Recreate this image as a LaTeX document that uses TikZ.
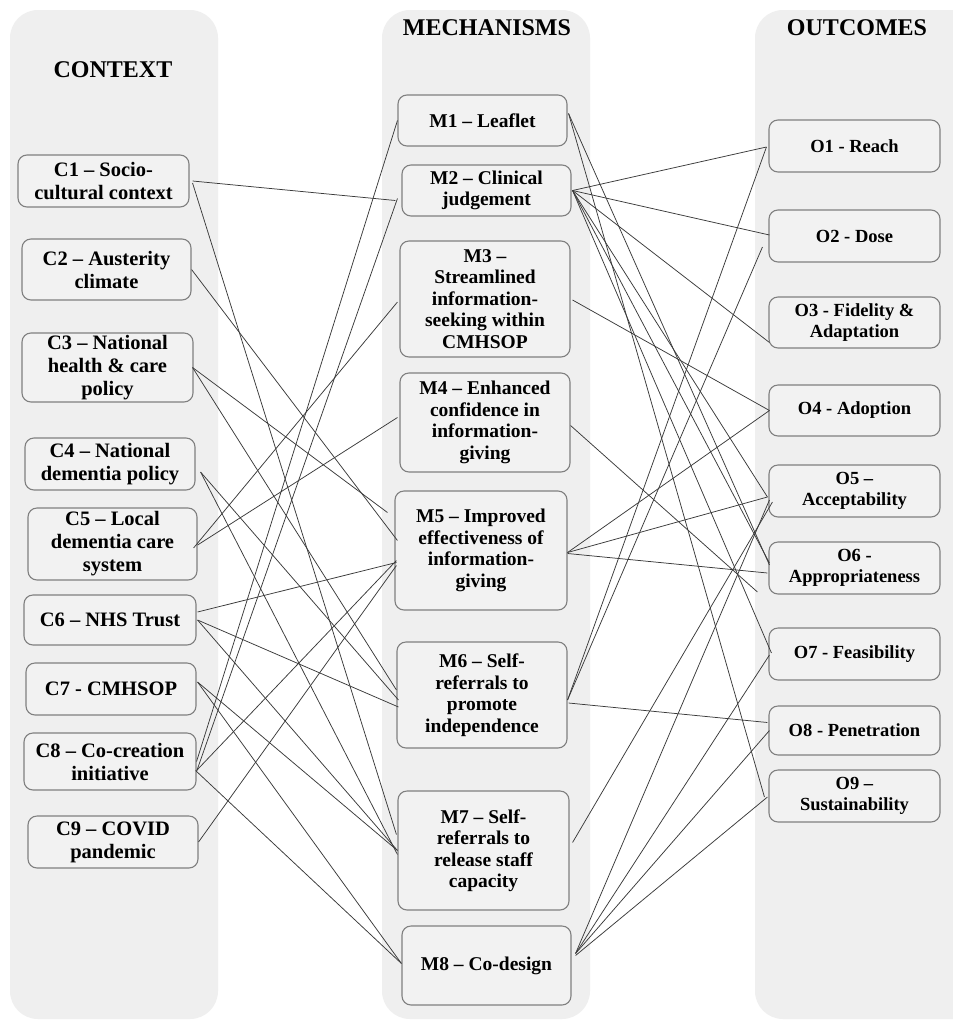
\documentclass[tikz,border=0pt]{standalone}
\usepackage{fontspec}
\setmainfont{Liberation Serif}
\usetikzlibrary{calc}
\definecolor{panelgray}{HTML}{EFEFEF}
\definecolor{boxfill}{HTML}{F2F2F2}
\definecolor{boxline}{HTML}{808080}
\definecolor{linkc}{HTML}{3A3A3A}
\tikzset{
  panel/.style={fill=panelgray, draw=none, rounded corners=28pt},
  head/.style={font=\fontsize{24}{28}\selectfont\bfseries, inner sep=0pt},
  box/.style={draw=boxline, line width=1.1pt, fill=boxfill, rounded corners=9pt, inner sep=0pt,
    align=center, font=\fontsize{18.5}{21.5}\selectfont\bfseries},
  cbox/.style={box, font=\fontsize{20.5}{23}\selectfont\bfseries},
  mbox/.style={box, font=\fontsize{19.5}{21.5}\selectfont\bfseries},
  obox/.style={box},
  link/.style={draw=linkc, line width=0.75pt},
}
\newcommand{\bx}[7]{\node[#7, minimum width=#4pt-#2pt, minimum height=#5pt-#3pt] (#1) at ({(#2+#4)/2},{(#3+#5)/2}) {#6};}
\begin{document}
\begin{tikzpicture}[x=1pt,y=-1pt]
\useasboundingbox (0,0) rectangle (953,1021);
\clip (0,0) rectangle (953,1021);
\fill[white] (0,0) rectangle (953,1021);
\fill[panel] (10,10) rectangle (218,1019);
\fill[panel] (382,10) rectangle (590,1019);
\fill[panel] (755,10) rectangle (985,1019);
\node[head] (hc) at (113,70) {CONTEXT};
\node[head] (hm) at (487,28) {MECHANISMS};
\node[head] (ho) at (857,28) {OUTCOMES};
% context
\bx{c1}{18}{155}{189}{207}{C1 – Socio-\\cultural context}{cbox}
\bx{c2}{22}{239}{191}{300}{C2 – Austerity\\climate}{cbox}
\bx{c3}{22}{333}{193}{402}{C3 – National\\health \& care\\policy}{cbox}
\bx{c4}{25}{438}{195}{490}{C4 – National\\dementia policy}{cbox}
\bx{c5}{28}{508}{197}{580}{C5 – Local\\dementia care\\system}{cbox}
\bx{c6}{24}{595}{196}{645}{C6 – NHS Trust}{cbox}
\bx{c7}{26}{663}{196}{715}{C7 - CMHSOP}{cbox}
\bx{c8}{24}{733}{196}{790}{C8 – Co-creation\\initiative}{cbox}
\bx{c9}{28}{816}{198}{868}{C9 – COVID\\pandemic}{cbox}
% mechanisms
\bx{m1}{398}{95}{567}{146}{M1 – Leaflet}{mbox}
\bx{m2}{402}{165}{571}{216}{M2 – Clinical\\judgement}{mbox}
\bx{m3}{400}{241}{570}{357}{M3 –\\Streamlined\\information-\\seeking within\\CMHSOP}{mbox}
\bx{m4}{400}{373}{570}{472}{M4 – Enhanced\\confidence in\\information-\\giving}{mbox}
\bx{m5}{395}{491}{567}{610}{M5 – Improved\\effectiveness of\\information-\\giving}{mbox}
\bx{m6}{397}{642}{567}{748}{M6 – Self-\\referrals to\\promote\\independence}{mbox}
\bx{m7}{398}{791}{569}{910}{M7 – Self-\\referrals to\\release staff\\capacity}{mbox}
\bx{m8}{402}{926}{571}{1005}{M8 – Co-design}{mbox}
% outcomes
\bx{o1}{769}{120}{940}{172}{O1 - Reach}{obox}
\bx{o2}{769}{210}{940}{262}{O2 - Dose}{obox}
\bx{o3}{769}{297}{940}{348}{O3 - Fidelity \&\\Adaptation}{obox}
\bx{o4}{769}{385}{940}{436}{O4 - Adoption}{obox}
\bx{o5}{769}{465}{940}{517}{O5 –\\Acceptability}{obox}
\bx{o6}{769}{542}{940}{594}{O6 -\\Appropriateness}{obox}
\bx{o7}{769}{628}{940}{680}{O7 - Feasibility}{obox}
\bx{o8}{769}{706}{940}{755}{O8 - Penetration}{obox}
\bx{o9}{769}{770}{940}{822}{O9 –\\Sustainability}{obox}
% context -> mechanisms
\draw[link] ($(c1.east)+(3,0)$) -- ($(m2.west)+(-6,10)$);
\draw[link] ($(c1.east)+(3,2)$) -- ($(m7.west)+(-1,-16)$);
\draw[link] ($(c2.east)+(0,0)$) -- ($(m5.west)+(3,-10)$);
\draw[link] ($(c3.east)+(-1,0)$) -- ($(m5.west)+(-7,-38)$);
\draw[link] ($(c3.east)+(-1,0)$) -- ($(m6.west)+(0,-5)$);
\draw[link] ($(c4.east)+(5,8)$) -- ($(m6.west)+(2,5)$);
\draw[link] ($(c4.east)+(5,8)$) -- ($(m7.west)+(0,4)$);
\draw[link] ($(c5.east)+(-4,4)$) -- ($(m3.west)+(-2,3)$);
\draw[link] ($(c5.east)+(0,1)$) -- ($(m4.west)+(-2,-5)$);
\draw[link] ($(c6.east)+(1,-8)$) -- ($(m5.west)+(2,12)$);
\draw[link] ($(c6.east)+(1,0)$) -- ($(m6.west)+(2,12)$);
\draw[link] ($(c6.east)+(1,0)$) -- ($(m7.west)+(0,0)$);
\draw[link] ($(c7.east)+(1,-7)$) -- ($(m7.west)+(0,0)$);
\draw[link] ($(c7.east)+(1,-7)$) -- ($(m8.west)+(0,-2)$);
\draw[link] ($(c8.east)+(0,0)$) -- ($(m1.west)+(0,0)$);
\draw[link] ($(c8.east)+(0,10)$) -- ($(m2.west)+(-4,8)$);
\draw[link] ($(c8.east)+(0,9)$) -- ($(m5.west)+(2,10)$);
\draw[link] ($(c8.east)+(-1,9)$) -- ($(m8.west)+(0,-2)$);
\draw[link] ($(c9.east)+(0,0)$) -- ($(m5.west)+(2,15)$);
% mechanisms -> outcomes
\draw[link] ($(m1.east)+(1,-7)$) -- ($(o6.west)+(1,-3)$);
\draw[link] ($(m1.east)+(1,-7)$) -- ($(o9.west)+(-4,1)$);
\draw[link] ($(m2.east)+(1,0)$) -- ($(o1.west)+(-2,1)$);
\draw[link] ($(m2.east)+(1,0)$) -- ($(o2.west)+(1,-1)$);
\draw[link] ($(m2.east)+(1,0)$) -- ($(o3.west)+(1,20)$);
\draw[link] ($(m2.east)+(1,0)$) -- ($(o5.west)+(-1,6)$);
\draw[link] ($(m2.east)+(1,0)$) -- ($(o6.west)+(1,-5)$);
\draw[link] ($(m2.east)+(1,0)$) -- ($(o7.west)+(3,-1)$);
\draw[link] ($(m3.east)+(2,1)$) -- ($(o4.west)+(1,0)$);
\draw[link] ($(m4.east)+(0,3)$) -- ($(o6.west)+(-11,24)$);
\draw[link] ($(m5.east)+(0,2)$) -- ($(o4.west)+(1,0)$);
\draw[link] ($(m5.east)+(0,2)$) -- ($(o5.west)+(-1,6)$);
\draw[link] ($(m5.east)+(0,3)$) -- ($(o6.west)+(-1,5)$);
\draw[link] ($(m6.east)+(0,5)$) -- ($(o1.west)+(-2,1)$);
\draw[link] ($(m6.east)+(0,5)$) -- ($(o2.west)+(-6,11)$);
\draw[link] ($(m6.east)+(1,8)$) -- ($(o8.west)+(-1,-8)$);
\draw[link] ($(m7.east)+(3,-8)$) -- ($(o5.west)+(4,11)$);
\draw[link] ($(m8.east)+(4,-12)$) -- ($(o5.west)+(1,9)$);
\draw[link] ($(m8.east)+(4,-12)$) -- ($(o7.west)+(1,1)$);
\draw[link] ($(m8.east)+(4,-12)$) -- ($(o8.west)+(1,0)$);
\draw[link] ($(m8.east)+(4,-10)$) -- ($(o9.west)+(-1,1)$);
\end{tikzpicture}
\end{document}
